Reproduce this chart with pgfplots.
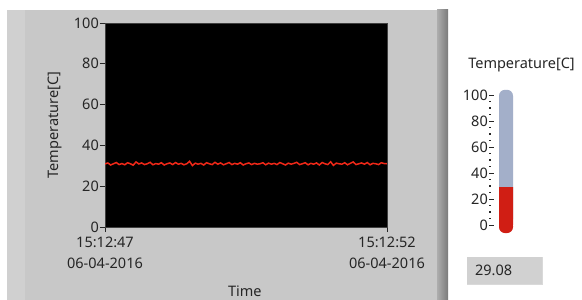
\documentclass[border=0pt]{standalone}
\usepackage{pgfplots}
\pgfplotsset{compat=1.18}
\usepackage{fontspec}
\setmainfont{Noto Sans}
\definecolor{panel}{HTML}{C8C8C8}
\definecolor{panelL}{HTML}{D0D0D0}
\definecolor{txt}{HTML}{262626}
\definecolor{trace}{HTML}{F02818}
\definecolor{tubeA}{HTML}{A3AFC9}
\definecolor{tubeB}{HTML}{D2DAEA}
\definecolor{redA}{HTML}{D01E14}
\definecolor{redB}{HTML}{F24A3A}
\newcommand{\lvfont}{\fontsize{14.5bp}{20.5bp}\selectfont}
\begin{document}
\lvfont
\begin{tikzpicture}
\path[use as bounding box] (0,0) rectangle (582bp,300bp);
\fill[white] (0,0) rectangle (582bp,300bp);
\fill[panel] (7bp,0) rectangle (437bp,290bp);
\fill[panelL] (7bp,0) rectangle (25bp,290bp);
\shade[left color=black!32, right color=black!52] (437bp,0) rectangle (448bp,290bp);
\begin{axis}[
  at={(105bp,73bp)}, anchor=south west, scale only axis,
  width=282bp, height=204bp,
  xmin=0, xmax=5, ymin=0, ymax=100,
  axis background/.style={fill=black},
  axis line style={draw=black!75, line width=0.6bp},
  ytick={0,20,40,60,80,100}, xtick={0,5},
  xticklabels={{15:12:47\\06-04-2016},{15:12:52\\06-04-2016}},
  xtick pos=bottom, ytick pos=left,
  tick align=outside, major tick length=5bp,
  tick style={draw=txt, line width=0.8bp},
  /pgf/number format/assume math mode=true,
  ticklabel style={font=\lvfont, text=txt},
  xticklabel style={align=center, inner sep=1bp, yshift=-4bp},
  yticklabel style={inner sep=1bp},
  xlabel={Time}, ylabel={Temperature[C]},
  label style={font=\lvfont, text=txt},
  xlabel style={at={(axis description cs:0.496,-0.3137)}, anchor=center},
  ylabel style={at={(axis description cs:-0.1773,0.5)}, anchor=center},
]
\addplot[trace, line width=1.5bp] coordinates {
(0.00,30.9)(0.05,31.4)(0.10,30.4)(0.15,31.0)(0.20,31.6)(0.25,30.6)(0.30,31.1)(0.35,30.5)(0.40,31.5)(0.45,31.0)
(0.50,30.3)(0.55,31.9)(0.60,30.9)(0.65,31.4)(0.70,30.6)(0.75,31.0)(0.80,31.7)(0.85,30.5)(0.90,31.1)(0.95,30.8)
(1.00,31.5)(1.05,30.4)(1.10,31.0)(1.15,31.4)(1.20,30.6)(1.25,31.6)(1.30,30.8)(1.35,31.2)(1.40,30.5)(1.45,31.0)
(1.50,32.2)(1.55,30.1)(1.60,31.3)(1.65,30.8)(1.70,31.2)(1.75,30.4)(1.80,31.5)(1.85,31.0)(1.90,30.6)(1.95,31.7)
(2.00,30.8)(2.05,31.4)(2.10,30.5)(2.15,31.0)(2.20,31.6)(2.25,30.6)(2.30,31.2)(2.35,30.8)(2.40,31.5)(2.45,30.4)
(2.50,31.0)(2.55,31.4)(2.60,30.6)(2.65,31.2)(2.70,30.8)(2.75,31.0)(2.80,31.5)(2.85,30.5)(2.90,31.3)(2.95,30.8)
(3.00,31.2)(3.05,30.6)(3.10,31.6)(3.15,31.0)(3.20,30.4)(3.25,31.3)(3.30,30.8)(3.35,31.2)(3.40,31.7)(3.45,30.6)
(3.50,31.0)(3.55,31.5)(3.60,30.5)(3.65,31.2)(3.70,30.8)(3.75,31.4)(3.80,30.4)(3.85,31.6)(3.90,31.0)(3.95,30.6)
(4.00,32.0)(4.05,30.2)(4.10,31.3)(4.15,31.0)(4.20,30.8)(4.25,31.5)(4.30,30.5)(4.35,31.2)(4.40,31.9)(4.45,30.6)
(4.50,31.0)(4.55,31.4)(4.60,30.8)(4.65,31.6)(4.70,30.5)(4.75,31.2)(4.80,31.0)(4.85,30.6)(4.90,31.5)(4.95,31.1)(5.00,31.0)
};
\end{axis}
% thermometer
\begin{axis}[
  at={(489bp,75bp)}, anchor=south west, scale only axis,
  width=24bp, height=130bp,
  xmin=0, xmax=24, ymin=0, ymax=100,
  axis line style={draw=none}, clip=false,
  xtick=\empty, ytick={0,20,40,60,80,100}, ytick pos=left,
  minor y tick num=3,
  tick align=inside, major tick length=5bp, minor tick length=2bp,
  major tick style={draw=txt, line width=0.8bp},
  minor tick style={draw=txt, line width=1.4bp},
  /pgf/number format/assume math mode=true,
  ticklabel style={font=\lvfont, text=txt},
  yticklabel style={inner sep=1bp},
]
\shade[left color=tubeA, middle color=tubeB, right color=tubeA, rounded corners=6bp]
  (axis cs:10,0) rectangle (axis cs:24,104);
\addplot[ybar, bar width=14bp, draw=none, left color=redA, middle color=redB, right color=redA]
  coordinates {(17,29.08)};
\shade[left color=redA, middle color=redB, right color=redA, rounded corners=6bp]
  (axis cs:10,-6.2) rectangle (axis cs:24,4);
\end{axis}
\node[text=txt, font=\lvfont] at (521.5bp,235bp) {Temperature[C]};
\fill[black!18] (467bp,16bp) rectangle (542bp,43bp);
\draw[white!85!black, line width=0.8bp] (467bp,16bp) -- (542bp,16bp) -- (542bp,43bp);
\node[anchor=west, text=txt, font=\lvfont] at (470bp,29.5bp) {29.08};
\end{tikzpicture}
\end{document}
